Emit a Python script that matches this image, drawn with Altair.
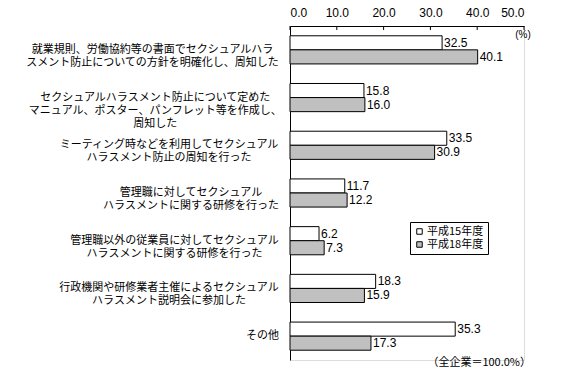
import altair as alt
import pandas as pd

# ---- data ----
category_lines = [
    ["就業規則、労働協約等の書面でセクシュアルハラ", "スメント防止についての方針を明確化し、周知した"],
    ["セクシュアルハラスメント防止について定めた", "マニュアル、ポスター、パンフレット等を作成し、", "周知した"],
    ["ミーティング時などを利用してセクシュアル", "ハラスメント防止の周知を行った"],
    ["管理職に対してセクシュアル", "ハラスメントに関する研修を行った"],
    ["管理職以外の従業員に対してセクシュアル", "ハラスメントに関する研修を行った"],
    ["行政機関や研修業者主催によるセクシュアル", "ハラスメント説明会に参加した"],
    ["その他"],
]
series = ["平成15年度", "平成18年度"]
values_h15 = [32.5, 15.8, 33.5, 11.7, 6.2, 18.3, 35.3]
values_h18 = [40.1, 16.0, 30.9, 12.2, 7.3, 15.9, 17.3]
x_ticks = [0, 10, 20, 30, 40, 50]
colors = ["#FFFFFF", "#C0C0C0"]
unit_label = "(%)"
footnote = "（全企業＝100.0%）"

W, H = 234, 334
JP = "Noto Sans CJK JP"
NUM = "Liberation Sans"
LABEL_SIZE = 11
LABEL_GAP = 11  # gap between label block and the axis line

categories = ["|".join(l) for l in category_lines]


# estimated width (px) of a label line in a full-width font
def line_width(s):
    n = len(s) - (0.5 if s.endswith("、") else 0)
    return n * LABEL_SIZE


# label blocks: right-aligned next to the axis, lines centred within a block
label_df = pd.DataFrame(
    {
        "cat": categories,
        "xc": [-LABEL_GAP - max(line_width(s) for s in l) / 2 for l in category_lines],
    }
)

rows = []
for c, a, b in zip(categories, values_h15, values_h18):
    rows.append({"cat": c, "series": series[0], "value": a})
    rows.append({"cat": c, "series": series[1], "value": b})
df = pd.DataFrame(rows)

y_enc = alt.Y(
    "cat:N",
    sort=categories,
    scale=alt.Scale(paddingInner=0.41, paddingOuter=0.205),
    axis=alt.Axis(title=None, ticks=False, labels=False, domainColor="black"),
)
x_enc = alt.X(
    "value:Q",
    scale=alt.Scale(domain=[0, 50], nice=False),
    axis=alt.Axis(
        orient="top",
        title=None,
        values=x_ticks,
        format=".1f",
        grid=False,
        ticks=False,
        domainColor="black",
        labelFont=NUM,
        labelFontSize=12,
        labelColor="black",
        labelPadding=7,
    ),
)
yoff = alt.YOffset("series:N", sort=series, scale=alt.Scale(paddingInner=0, paddingOuter=0))

base = alt.Chart(df)

bars = base.mark_bar(stroke="black", strokeWidth=1).encode(
    y=y_enc,
    x=x_enc,
    yOffset=yoff,
    fill=alt.Fill(
        "series:N",
        sort=series,
        scale=alt.Scale(domain=series, range=colors),
        legend=alt.Legend(
            title=None,
            orient="none",
            legendX=120,
            legendY=196,
            symbolType="square",
            symbolSize=30,
            symbolStrokeColor="black",
            symbolStrokeWidth=1,
            labelFont=JP,
            labelFontSize=11,
            labelColor="black",
            labelOffset=2,
            rowPadding=1,
            padding=4,
            strokeColor="black",
            fillColor="white",
            cornerRadius=0,
        ),
    ),
)

value_labels = base.mark_text(
    align="left", baseline="middle", dx=2, font=NUM, fontSize=12, color="black"
).encode(
    y=alt.Y("cat:N", sort=categories),
    x="value:Q",
    yOffset=alt.YOffset("series:N", sort=series),
    text=alt.Text("value:Q", format=".1f"),
)

cat_labels = alt.Chart(label_df).mark_text(
    align="center",
    baseline="middle",
    lineBreak="|",
    lineHeight=13,
    font=JP,
    fontSize=LABEL_SIZE,
    color="black",
).encode(
    y=alt.Y("cat:N", sort=categories),
    x=alt.X("xc:Q", scale=None),
    text="cat:N",
)

tick_df = pd.DataFrame({"t": x_ticks})
ticks = alt.Chart(tick_df).mark_rule(color="black", strokeWidth=1).encode(
    x="t:Q", y=alt.value(0), y2=alt.value(4)
)

unit = alt.Chart(pd.DataFrame({"t": [unit_label]})).mark_text(
    align="center", baseline="middle", font=NUM, fontSize=10, color="black"
).encode(text="t:N", x=alt.value(233), y=alt.value(9))

note = alt.Chart(pd.DataFrame({"t": [footnote]})).mark_text(
    align="right", baseline="middle", font=JP, fontSize=11, color="black"
).encode(text="t:N", x=alt.value(241), y=alt.value(337))

chart = (
    alt.layer(bars, value_labels, cat_labels, ticks, unit, note)
    .properties(
        width=W,
        height=H,
        autosize=alt.AutoSizeParams(type="none"),
        padding={"left": 282, "top": 18, "right": 30, "bottom": 12},
    )
    .configure_view(stroke=None)
    .configure(background="white")
)

chart.save("out.html", embed_options={"renderer": "svg", "actions": False})
